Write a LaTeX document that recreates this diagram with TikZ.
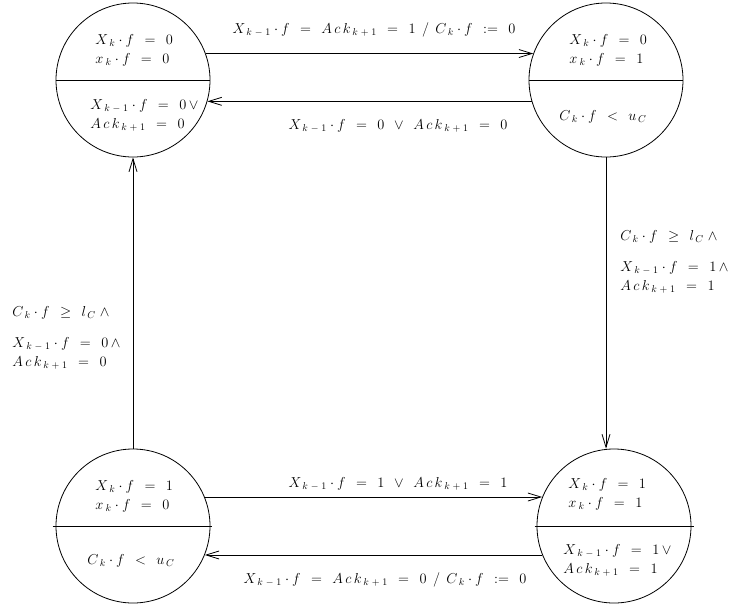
\documentclass[tikz,border=0pt]{standalone}
\usepackage{amsmath, amssymb}
\usepackage{tikz}
\usetikzlibrary{arrows.meta}
\DeclareMathSizes{13.5}{13.5}{10}{7.5}

\newcommand{\Eq}{\;\,=\;\,}
\newcommand{\Xk}{X_{\mkern4mu k}\cdot f}
\newcommand{\xk}{x_{\mkern4mu k}\cdot f}
\newcommand{\Xkm}{X_{\mkern4mu k\mkern5mu-\mkern5mu1}\cdot f}
\newcommand{\Ack}{A\,c\,k_{\mkern4mu k\mkern5mu+\mkern5mu1}}
\newcommand{\Ck}{C_{\mkern4mu k}\cdot f}

\tikzset{
  state/.style={circle, draw, minimum size=154pt, inner sep=0pt},
  txt/.style={font=\fontsize{13.5}{19}\selectfont, align=left, inner sep=0pt}
}

\begin{document}
\begin{tikzpicture}[x=1pt, y=-1pt, line width=0.8pt, >={Straight Barb[length=13pt,width=8pt]}]
      \useasboundingbox (0,0) rectangle (731,606);
      \node[state] (s00) at (133,80){};
      \node[state] (s01) at (606,80){};
      \node[state] (s10) at (133,526){};
      \node[state] (s11) at (614,526){};

      \draw (s00.west) -- (s00.east);
      \draw (s01.west) -- (s01.east);
      \draw ([xshift=-3pt]s10.west) -- ([xshift=2pt]s10.east);
      \draw ([xshift=-2pt]s11.west) -- ([xshift=3pt]s11.east);

      \node[txt, anchor=west] (s00up) at (95,50){$\Xk\Eq0$\\$\xk\Eq0$};
      \node[txt, anchor=west] (s00lo) at (90,115){$\Xkm\Eq0\,\vee$\\$\Ack\Eq0$};
      \node[txt, anchor=west] (s01up) at (569,50){$\Xk\Eq0$\\$\xk\Eq1$};
      \node[txt] (s01lo) at (603,117){$\Ck\;\,<\;\,u_{\mkern3mu C}$};
      \node[txt, anchor=west] (s10up) at (95,496){$\Xk\Eq1$\\$\xk\Eq0$};
      \node[txt] (s10lo) at (131,561){$\Ck\;\,<\;\,u_{\mkern3mu C}$};
      \node[txt, anchor=west] (s11up) at (568,494){$\Xk\Eq1$\\$\xk\Eq1$};
      \node[txt, anchor=west] (s11lo) at (563,560){$\Xkm\Eq1\,\vee$\\$\Ack\Eq1$};

      \draw[->] (s00.20) -- (s01.160);
      \draw[->] (s01.196) -- (s00.-16);
      \draw[->] (s01.south) -- (s01.south |- s11.north);
      \draw[->] (s10.north) -- (s00.south);
      \draw[->] (s10.22) -- (s11.158);
      \draw[->] (s11.202) -- (s10.-22);

      \node[txt] (t0001) at (374,30){$\Xkm\Eq\Ack\Eq1\;\,/\;\,\Ck\;\,:=\;\,0$};
      \node[txt] (t0100) at (398,126){$\Xkm\Eq0\;\,\vee\;\,\Ack\Eq0$};
      \node[txt, anchor=west] (t0111) at (620,262){$\Ck\;\,\geq\;\,l_{\mkern3mu C}\;\wedge$\\[12pt]$\Xkm\Eq1\,\wedge$\\$\Ack\Eq1$};
      \node[txt, anchor=west] (t1000) at (12,338){$\Ck\;\,\geq\;\,l_{\mkern3mu C}\;\wedge$\\[12pt]$\Xkm\Eq0\,\wedge$\\$\Ack\Eq0$};
      \node[txt] (t1011) at (398,484){$\Xkm\Eq1\;\,\vee\;\,\Ack\Eq1$};
      \node[txt] (t1110) at (385,580){$\Xkm\Eq\Ack\Eq0\;\,/\;\,\Ck\;\,:=\;\,0$};
    \end{tikzpicture}
\end{document}
